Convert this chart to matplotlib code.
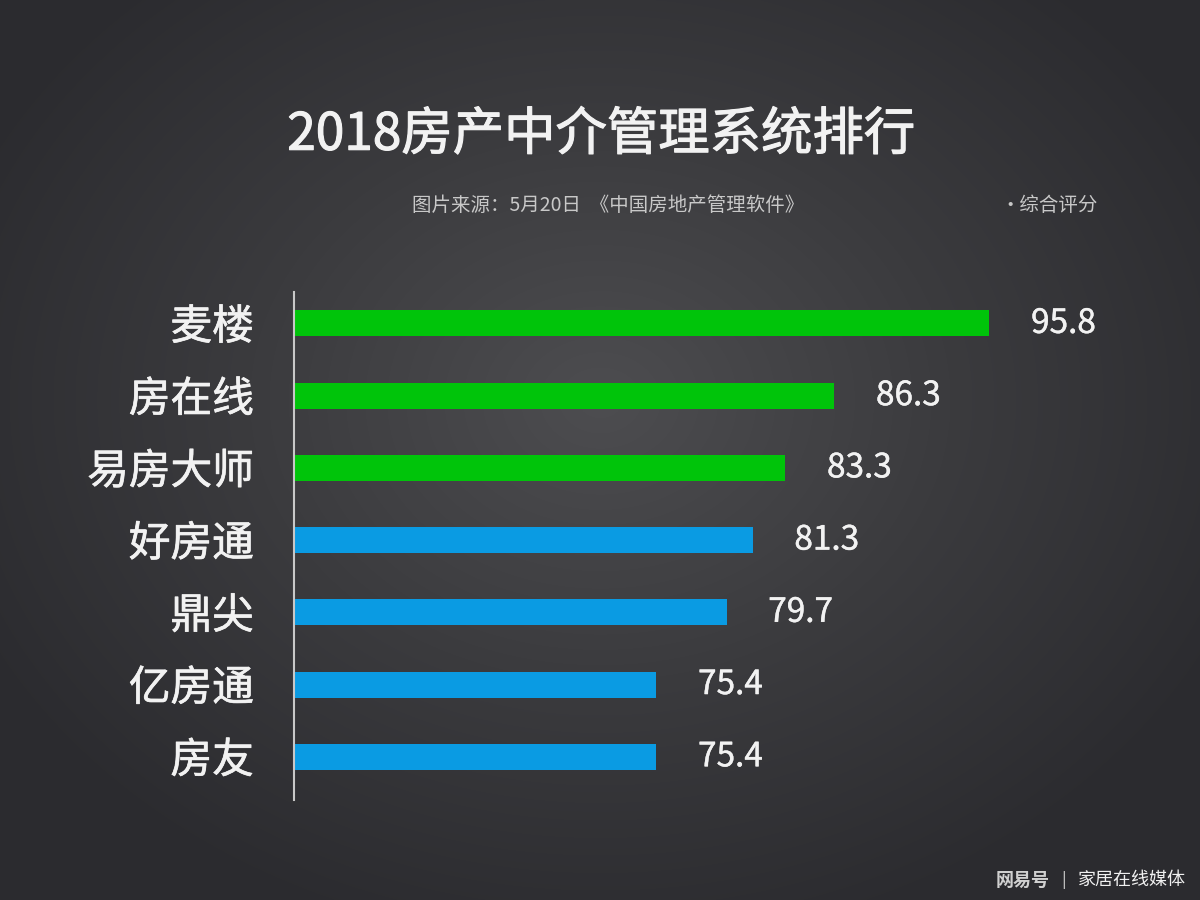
import numpy as np
import matplotlib
matplotlib.use("Agg")
import matplotlib.pyplot as plt
import matplotlib.patheffects as pe
from matplotlib.colors import LinearSegmentedColormap

plt.rcParams["font.family"] = ["Noto Sans CJK SC", "DejaVu Sans"]

# data (top to bottom)
names  = ["麦楼", "房在线", "易房大师", "好房通", "鼎尖", "亿房通", "房友"]
scores = [95.8, 86.3, 83.3, 81.3, 79.7, 75.4, 75.4]
groups = ["top", "top", "top", "rest", "rest", "rest", "rest"]

TITLE    = "2018房产中介管理系统排行"
SUBTITLE = "图片来源：5月20日  《中国房地产管理软件》"
UNIT     = "·综合评分"

GROUP_COLORS = {"top": "#00c40a", "rest": "#0a9be3"}
TEXT = "#f2f2f2"


def stroke(w):
    # thin outline in the text colour, makes the regular face a little heavier
    return [pe.withStroke(linewidth=w, foreground=TEXT)]


fig = plt.figure(figsize=(12, 9), dpi=100)

# radial gradient background
bg = fig.add_axes([0, 0, 1, 1], zorder=0)
yy, xx = np.mgrid[0:900, 0:1200]
r = np.sqrt(((xx - 600) / 700.0) ** 2 + ((yy - 400) / 560.0) ** 2)
r = np.clip(r, 0, 1)
bg_cmap = LinearSegmentedColormap.from_list("bg", ["#4d4d50", "#3b3b3e", "#2b2b2f"])
bg.imshow(r, cmap=bg_cmap, aspect="auto", extent=[0, 1, 0, 1], origin="upper")
bg.axis("off")

ax = fig.add_axes([0.245, 0.111, 0.672, 0.565], zorder=1)
ax.patch.set_alpha(0)

y = np.arange(len(names))
colors = [GROUP_COLORS[g] for g in groups]
ax.barh(y, scores, height=0.36, color=colors)
ax.set_xlim(53.2, 102.6)
ax.set_ylim(6.6, -0.44)

for yi, v in zip(y, scores):
    ax.annotate(f"{v:.1f}", xy=(v, yi), xytext=(30, 0), textcoords="offset points",
                va="center", ha="left", fontsize=24, color=TEXT,
                path_effects=stroke(0.3))

ax.set_yticks(y)
ax.set_yticklabels(names, fontsize=30, color=TEXT)
for lab in ax.get_yticklabels():
    lab.set_path_effects(stroke(0.5))
ax.tick_params(axis="y", length=0, pad=29)
ax.set_xticks([])
for side in ["top", "right", "bottom"]:
    ax.spines[side].set_visible(False)
ax.spines["left"].set_color("#c8c8c8")
ax.spines["left"].set_linewidth(1.5)

fig.text(0.501, 0.850, TITLE, ha="center", va="center", fontsize=37,
         color=TEXT, path_effects=stroke(0.8))
fig.text(0.507, 0.772, SUBTITLE, ha="center", va="center", fontsize=14, color="#c8c8c8")
fig.text(0.915, 0.772, UNIT, ha="right", va="center", fontsize=14, color="#c8c8c8")

# footer credit
fig.text(0.830, 0.022, "网易号", ha="left", va="center", fontsize=13,
         fontweight="bold", color="#d0d0d0")
fig.text(0.886, 0.022, "|", ha="center", va="center", fontsize=12, color="#d0d0d0")
fig.text(0.898, 0.022, "家居在线媒体", ha="left", va="center", fontsize=13, color="#f0f0f0")

fig.savefig("out.png", dpi=100)
